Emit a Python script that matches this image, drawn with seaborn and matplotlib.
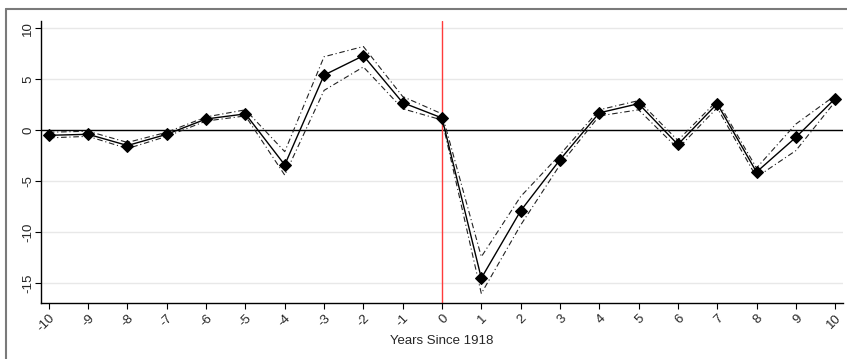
import matplotlib
matplotlib.use("Agg")
import matplotlib.pyplot as plt
import matplotlib.lines as mlines
import seaborn as sns
import pandas as pd

years = list(range(-10, 11))
estimate = [-0.5, -0.4, -1.5, -0.4, 1.1, 1.6, -3.4, 5.4, 7.3, 2.7, 1.2,
            -14.5, -7.9, -2.9, 1.7, 2.6, -1.4, 2.6, -4.1, -0.7, 3.1]
upper = [-0.2, -0.1, -1.2, -0.2, 1.3, 2.0, -2.1, 7.2, 8.2, 3.3, 1.6,
         -12.4, -6.5, -2.4, 2.0, 2.9, -1.0, 2.9, -3.7, 0.6, 3.4]
lower = [-0.75, -0.6, -1.8, -0.6, 0.9, 1.4, -4.4, 3.9, 6.2, 2.1, 1.0,
         -16.0, -9.3, -3.4, 1.4, 2.0, -1.8, 2.2, -4.6, -2.0, 2.8]
yticks = [-15, -10, -5, 0, 5, 10]
xlabel = "Years Since 1918"

df = pd.DataFrame({"year": years, "est": estimate, "hi": upper, "lo": lower})

sns.set_style("white")
plt.rcParams["font.family"] = ["Liberation Sans", "DejaVu Sans"]

fig = plt.figure(figsize=(8.47, 3.59), dpi=100)
ax = fig.add_axes([41 / 847, 1 - 302.7 / 359, (843 - 41) / 847, (302.7 - 21) / 359])

for y in yticks:
    ax.axhline(y, color="#e8e8e8", lw=1.0, zorder=0)
ax.axhline(0, color="black", lw=1.0, zorder=1)
ax.axvline(0, color="#ff3b3b", lw=1.0, zorder=1)

dash = (0, (5, 2.5, 1, 2.5))
sns.lineplot(data=df, x="year", y="hi", ax=ax, color="#222222", lw=0.8,
             linestyle=dash, zorder=2)
sns.lineplot(data=df, x="year", y="lo", ax=ax, color="#222222", lw=0.8,
             linestyle=dash, zorder=2)
sns.lineplot(data=df, x="year", y="est", ax=ax, color="black", lw=1.0,
             marker="D", markersize=6.5, markeredgecolor="black",
             markerfacecolor="black", zorder=3)

ax.set_xlim(-10.2, 10.2)
ax.set_ylim(-16.9, 10.7)
ax.set_xticks(years)
ax.set_xticklabels([str(y) for y in years], rotation=45, ha="right",
                   rotation_mode="anchor", fontsize=9.5)
ax.set_yticks(yticks)
ax.set_yticklabels([str(y) for y in yticks], rotation=90, va="center",
                   fontsize=9.5)
ax.tick_params(axis="x", direction="out", length=4, width=0.8,
               color="black", bottom=True, pad=3)
ax.tick_params(axis="y", direction="out", length=4, width=0.8,
               color="black", left=True, pad=1)
ax.set_xlabel(xlabel, fontsize=9.5, labelpad=0)
ax.set_ylabel("")
for s in ["top", "right"]:
    ax.spines[s].set_visible(False)
for s in ["left", "bottom"]:
    ax.spines[s].set_color("black")
    ax.spines[s].set_linewidth(1.0)

# outer frame (left and top edges)
fx = 6 / 847
fy = 1 - 9 / 359
fig.add_artist(mlines.Line2D([fx, fx], [0, fy], transform=fig.transFigure,
                             color="#7a7a7a", lw=1.5))
fig.add_artist(mlines.Line2D([fx, 1], [fy, fy], transform=fig.transFigure,
                             color="#7a7a7a", lw=1.5))

fig.savefig("out.png", dpi=100)
